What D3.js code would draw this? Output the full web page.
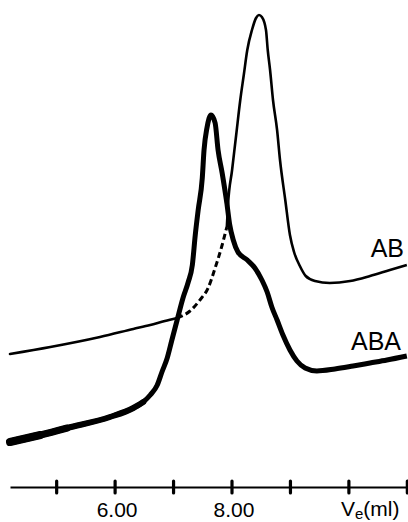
<!DOCTYPE html>
<html>
<head>
<meta charset="utf-8">
<script src="https://cdnjs.cloudflare.com/ajax/libs/d3/7.8.5/d3.min.js"></script>
<style>
  html, body { margin: 0; padding: 0; background: #fff; }
  svg { display: block; }
  text { font-family: "Liberation Sans", Arial, sans-serif; fill: #000; }
</style>
</head>
<body>
<div id="chart"></div>
<script>
  // elution volume (ml) and detector signal (arbitrary units)
  var abVe =      [4.21, 4.90, 5.75, 6.32, 6.61, 6.86, 7.07];
  var abSignal =  [26.6, 28.0, 30.0, 31.6, 32.4, 33.2, 33.8];

  var abDashVe =     [7.07, 7.29, 7.46, 7.60, 7.72, 7.84, 7.92];
  var abDashSignal = [33.8, 35.2, 37.4, 39.8, 43.8, 48.4, 52.0];

  var abPeakVe =     [7.92, 7.94, 8.01, 8.08, 8.15, 8.21, 8.27, 8.35, 8.42, 8.47, 8.52, 8.59, 8.62, 8.66, 8.71, 8.78, 8.83, 8.92, 9.00, 9.07, 9.17, 9.27, 9.43, 9.68, 10.03, 10.37, 10.71, 11.00];
  var abPeakSignal = [52.0, 56.4, 63.4, 70.4, 77.4, 82.4, 87.4, 91.4, 93.8, 94.4, 94.0, 91.4, 87.4, 83.4, 77.4, 71.4, 65.4, 57.4, 50.4, 47.0, 44.2, 42.2, 41.2, 40.8, 41.2, 42.2, 43.4, 44.4];

  var abaVe =     [4.21, 4.73, 5.19, 5.92, 6.32, 6.49, 6.61, 6.73, 6.81, 6.90, 6.98, 7.07, 7.17, 7.26, 7.33, 7.38, 7.43, 7.50, 7.53, 7.58, 7.65, 7.72, 7.77, 7.84, 7.92, 7.97, 8.03, 8.11, 8.27, 8.40, 8.52, 8.61, 8.69, 8.78, 8.88, 9.00, 9.12, 9.26, 9.46, 9.77, 10.08, 10.37, 10.66, 11.00];
  var abaSignal = [9.0, 10.4, 11.8, 14.0, 15.8, 17.0, 18.4, 20.4, 23.0, 25.8, 29.4, 33.4, 37.8, 41.0, 44.4, 50.4, 55.4, 61.8, 67.4, 71.8, 74.4, 72.8, 67.4, 62.8, 56.8, 52.4, 49.4, 47.0, 45.4, 43.8, 41.4, 39.0, 36.0, 33.4, 30.4, 27.4, 25.2, 23.8, 23.2, 23.6, 24.2, 24.8, 25.4, 26.2];

  var tickValues = [5, 6, 7, 8, 9, 10, 11];
  var tickLabels = {6: "6.00", 8: "8.00"};

  var width = 408, height = 522, axisY = 487;

  var svg = d3.select('#chart')
    .append('svg')
    .attr('width', width)
    .attr('height', height);

  var x = d3.scaleLinear().domain([4.21, 11.02]).range([10, 408]);
  var y = d3.scaleLinear().domain([0, 95]).range([axisY, 12]);

  function zip(xs, ys) {
    return xs.map(function(v, i) { return [v, ys[i]]; });
  }

  var line = d3.line()
    .x(function(d) { return x(d[0]); })
    .y(function(d) { return y(d[1]); })
    .curve(d3.curveMonotoneX);

  var ab = zip(abVe, abSignal),
    abDash = zip(abDashVe, abDashSignal),
    abPeak = zip(abPeakVe, abPeakSignal),
    aba = zip(abaVe, abaSignal);

  // AB, thin trace
  svg.append('path')
    .attr('d', line(ab))
    .attr('fill', 'none')
    .attr('stroke', '#000')
    .attr('stroke-width', 2.6)
    .attr('stroke-linecap', 'round');

  svg.append('path')
    .attr('d', line(abDash))
    .attr('fill', 'none')
    .attr('stroke', '#000')
    .attr('stroke-width', 3)
    .attr('stroke-dasharray', '6,3.5');

  svg.append('path')
    .attr('d', line(abPeak))
    .attr('fill', 'none')
    .attr('stroke', '#000')
    .attr('stroke-width', 2.6)
    .attr('stroke-linejoin', 'round');

  // ABA, thick trace, heavier at the start of the run
  svg.append('path')
    .attr('d', line(aba))
    .attr('fill', 'none')
    .attr('stroke', '#000')
    .attr('stroke-width', 5)
    .attr('stroke-linejoin', 'round');

  [[6.5, 6], [5.2, 7], [4.75, 8]].forEach(function(p) {
    svg.append('path')
      .attr('d', line(aba.filter(function(d) { return d[0] <= p[0]; })))
      .attr('fill', 'none')
      .attr('stroke', '#000')
      .attr('stroke-width', p[1])
      .attr('stroke-linecap', 'round');
  });

  // x axis with ticks crossing the line
  var xAxis = d3.axisBottom(x)
    .tickValues(tickValues)
    .tickSizeOuter(0)
    .tickFormat(function(d) { return tickLabels[d] || ''; });

  var gx = svg.append('g')
    .attr('transform', 'translate(0,' + axisY + ')')
    .call(xAxis);

  gx.select('.domain')
    .attr('stroke', '#000')
    .attr('stroke-width', 2.2);

  gx.selectAll('.tick line')
    .attr('y1', -6)
    .attr('y2', 6)
    .attr('stroke', '#000')
    .attr('stroke-width', 3.2)
    .attr('stroke-linecap', 'round');

  gx.selectAll('.tick text')
    .attr('y', 30)
    .attr('dy', 0)
    .attr('dx', 2)
    .style('font-family', '"Liberation Sans", Arial, sans-serif')
    .style('font-size', '21px')
    .attr('fill', '#000');

  // axis title V_e (ml)
  var title = svg.append('text')
    .attr('x', 341)
    .attr('y', axisY + 29)
    .style('font-size', '21px');
  title.append('tspan').text('V');
  title.append('tspan')
    .attr('dy', 3)
    .style('font-size', '15px')
    .text('e');
  title.append('tspan')
    .attr('dy', -3)
    .text('(ml)');

  // trace labels
  svg.append('text')
    .attr('x', 404)
    .attr('y', 257)
    .attr('text-anchor', 'end')
    .style('font-size', '25px')
    .text('AB');

  svg.append('text')
    .attr('x', 401)
    .attr('y', 350)
    .attr('text-anchor', 'end')
    .style('font-size', '25px')
    .text('ABA');
</script>
</body>
</html>
